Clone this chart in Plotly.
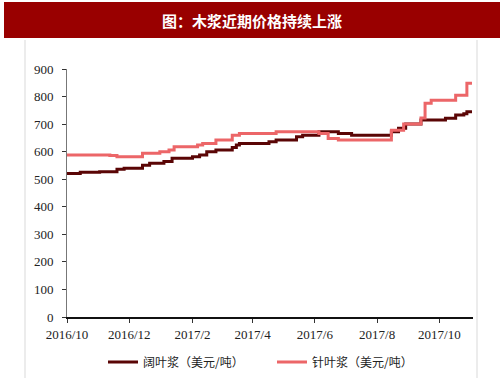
import plotly.graph_objects as go

# Hardwood pulp (阔叶浆) change points
hw_dates = ["2016-10-01","2016-10-14","2016-11-02","2016-11-19","2016-11-26","2016-12-14",
            "2016-12-21","2017-01-04","2017-01-12","2017-02-01","2017-02-08","2017-02-15",
            "2017-02-24","2017-03-12","2017-03-16","2017-03-19","2017-04-17","2017-04-24",
            "2017-05-14","2017-05-20","2017-06-05","2017-06-24","2017-07-07","2017-08-15",
            "2017-08-22","2017-08-29","2017-09-13","2017-10-07","2017-10-17","2017-10-25",
            "2017-10-28","2017-11-02"]
hw_vals = [521,525,527,536,540,551,
           558,564,576,582,588,600,
           606,615,624,630,636,642,
           654,660,672,666,660,672,
           685,700,715,721,733,738,
           745,745]

# Softwood pulp (针叶浆) change points
sw_dates = ["2016-10-01","2016-11-12","2016-11-19","2016-12-14","2016-12-31","2017-01-09",
            "2017-01-14","2017-02-06","2017-02-11","2017-02-24","2017-03-12","2017-03-19",
            "2017-04-24","2017-06-05","2017-06-14","2017-06-24","2017-08-15","2017-08-27",
            "2017-09-13","2017-09-17","2017-09-23","2017-10-17","2017-10-28","2017-11-02"]
sw_vals = [588,586,582,594,600,606,
           618,624,630,642,660,666,
           672,666,648,642,678,700,
           722,776,787,805,848,848]

tick_vals = ["2016-10-01","2016-12-01","2017-02-01","2017-04-01","2017-06-01","2017-08-01","2017-10-01"]
tick_text = ["2016/10","2016/12","2017/2","2017/4","2017/6","2017/8","2017/10"]
y_ticks = [0,100,200,300,400,500,600,700,800,900]

W, H = 503, 378
L, R, T, B = 67, 473, 69, 317
PW, PH = R - L, B - T

def px(x):
    return (x - L) / PW

def py(y):
    return (B - y) / PH

fig = go.Figure()
fig.add_trace(go.Scatter(x=hw_dates, y=hw_vals, mode="lines", line_shape="hv",
                         name="阔叶浆（美元/吨）", line=dict(color="#5a0505", width=3)))
fig.add_trace(go.Scatter(x=sw_dates, y=sw_vals, mode="lines", line_shape="hv",
                         name="针叶浆（美元/吨）", line=dict(color="#ec6668", width=3)))

tf = dict(family="Liberation Serif", size=13, color="#222")
fig.update_layout(
    width=W, height=H, margin=dict(l=L, r=W - R, t=T, b=H - B, autoexpand=False),
    paper_bgcolor="white", plot_bgcolor="white",
    font=dict(family="Liberation Serif", size=12, color="#222"),
    xaxis=dict(type="date", range=["2016-10-01", "2017-11-03"], automargin=False,
               tickvals=tick_vals, ticktext=tick_text, showgrid=False, tickangle=0,
               showline=True, linecolor="#111", linewidth=2,
               ticks="outside", ticklen=4, tickcolor="#333", tickfont=tf),
    yaxis=dict(range=[0, 900], tickvals=y_ticks, showgrid=False, automargin=False,
               zeroline=False, showline=True, linecolor="#777", linewidth=1,
               ticks="outside", ticklen=4, tickcolor="#333", tickfont=tf,
               ticklabelstandoff=6),
    legend=dict(orientation="h", x=px(103), xanchor="left", y=py(362), yanchor="middle",
                font=dict(family="Noto Sans CJK SC", size=12, color="#222"),
                entrywidth=124, entrywidthmode="pixels", bgcolor="rgba(0,0,0,0)"),
    showlegend=True,
    shapes=[
        dict(type="rect", xref="paper", yref="paper", x0=px(4), x1=px(500), y0=py(38), y1=py(2),
             fillcolor="#990000", line=dict(width=0), layer="above"),
        dict(type="line", xref="paper", yref="paper", x0=px(25), x1=px(25), y0=py(378), y1=py(40),
             line=dict(color="#d9d9d9", width=1)),
        dict(type="line", xref="paper", yref="paper", x0=px(477), x1=px(477), y0=py(378), y1=py(40),
             line=dict(color="#d9d9d9", width=1)),
    ],
    annotations=[
        dict(text="<b>图：木浆近期价格持续上涨</b>", xref="paper", yref="paper",
             x=px(252), y=py(20), xanchor="center", yanchor="middle", showarrow=False,
             font=dict(family="Noto Sans CJK SC", size=15, color="white")),
    ],
)
fig.write_html("out.html", config={"displayModeBar": False},
               post_script="document.body.style.margin='0';")
